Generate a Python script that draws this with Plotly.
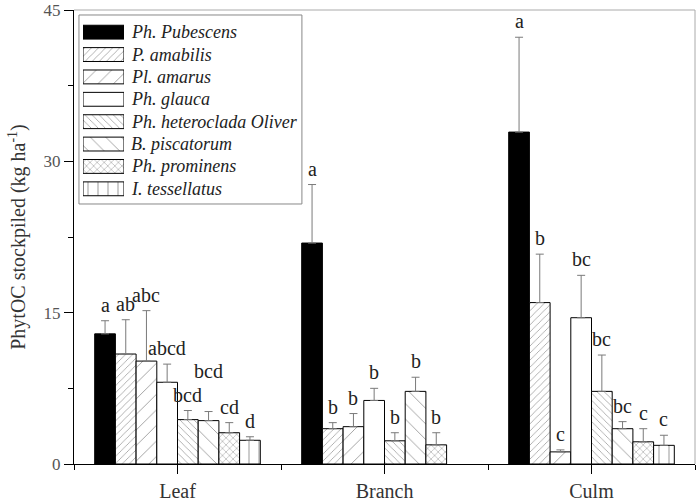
import plotly.graph_objects as go

# categories and species
categories = ["Leaf", "Branch", "Culm"]
species = ["Ph. Pubescens", "P. amabilis", "Pl. amarus", "Ph. glauca",
           "Ph. heteroclada Oliver", "B. piscatorum", "Ph. prominens", "I. tessellatus"]

# mean PhytOC stockpiled (kg ha-1): Leaf, Branch, Culm
pubescens = [12.9, 21.9, 32.9]
amabilis = [10.9, 3.5, 16.0]
amarus = [10.2, 3.7, 1.2]
glauca = [8.1, 6.3, 14.5]
heteroclada = [4.4, 2.3, 7.2]
piscatorum = [4.3, 7.2, 3.5]
prominens = [3.1, 1.9, 2.2]
tessellatus = [2.35, None, 1.85]

# upper error (SD)
err_pubescens = [1.3, 5.8, 9.4]
err_amabilis = [3.4, 0.6, 4.8]
err_amarus = [5.0, 1.3, 0.2]
err_glauca = [1.8, 1.2, 4.2]
err_heteroclada = [0.9, 0.8, 3.6]
err_piscatorum = [0.9, 1.4, 0.7]
err_prominens = [1.0, 1.2, 1.3]
err_tessellatus = [0.35, None, 1.0]

# significance letters
let_pubescens = ["a", "a", "a"]
let_amabilis = ["ab", "b", "b"]
let_amarus = ["abc", "b", "c"]
let_glauca = ["abcd", "b", "bc"]
let_heteroclada = ["bcd", "b", "bc"]
let_piscatorum = ["bcd", "b", "bc"]
let_prominens = ["cd", "b", "c"]
let_tessellatus = ["d", "", "c"]

values = [pubescens, amabilis, amarus, glauca, heteroclada, piscatorum, prominens, tessellatus]
errors = [err_pubescens, err_amabilis, err_amarus, err_glauca, err_heteroclada,
          err_piscatorum, err_prominens, err_tessellatus]
letters = [let_pubescens, let_amabilis, let_amarus, let_glauca, let_heteroclada,
           let_piscatorum, let_prominens, let_tessellatus]

# fill styles
patterns = [
    dict(shape="", bgcolor="black"),
    dict(shape="/", size=5, solidity=0.15, fgcolor="#333", bgcolor="white"),
    dict(shape="/", size=11, solidity=0.08, fgcolor="#333", bgcolor="white"),
    dict(shape="", bgcolor="white"),
    dict(shape="\\", size=5, solidity=0.15, fgcolor="#333", bgcolor="white"),
    dict(shape="\\", size=11, solidity=0.08, fgcolor="#333", bgcolor="white"),
    dict(shape="x", size=5, solidity=0.2, fgcolor="#333", bgcolor="white"),
    dict(shape="|", size=10, solidity=0.1, fgcolor="#333", bgcolor="white"),
]
fills = ["black"] + ["white"] * 7

font = "Liberation Serif, Times New Roman, serif"
xpos = list(range(len(categories)))

fig = go.Figure()
for i, name in enumerate(species):
    fig.add_trace(go.Bar(
        x=xpos, y=values[i], name=name, showlegend=False,
        marker=dict(color=fills[i], pattern=patterns[i], line=dict(color="black", width=1)),
        error_y=dict(type="data", symmetric=False, array=errors[i],
                     arrayminus=[0, 0, 0], color="#7a7a7a", thickness=1, width=4),
    ))

# hand-made legend: wide swatches drawn as horizontal bars on a small inset axis
for i, name in enumerate(species):
    fig.add_trace(go.Bar(
        x=[1], y=[i], orientation="h", width=0.62, showlegend=False, hoverinfo="skip",
        xaxis="x2", yaxis="y2",
        marker=dict(color=fills[i], pattern=patterns[i], line=dict(color="black", width=1)),
    ))

# letters above the error bars
annotations = []
for i in range(len(species)):
    for j in range(len(categories)):
        if values[i][j] is None:
            continue
        shift = 3
        if j == 0 and i == 5:
            shift = 28
        annotations.append(dict(
            x=j + (i - 3.5) * 0.1, y=values[i][j] + errors[i][j], xref="x", yref="y",
            text=letters[i][j], showarrow=False, yanchor="bottom", yshift=shift,
            font=dict(family=font, size=20, color="#222"),
        ))

# legend names
for i, name in enumerate(species):
    annotations.append(dict(
        x=0.088, y=i, xref="paper", yref="y2", text="<i>" + name + "</i>",
        showarrow=False, xanchor="left", yanchor="middle",
        font=dict(family=font, size=18, color="#222"),
    ))

fig.update_layout(
    width=700, height=504,
    margin=dict(l=74, r=5, t=10, b=40),
    paper_bgcolor="white", plot_bgcolor="white",
    barmode="group", bargap=0.2, bargroupgap=0,
    font=dict(family=font, color="#333"),
    annotations=annotations,
    xaxis=dict(
        range=[-0.5, 2.5], tickvals=xpos, ticktext=categories, automargin=False,
        showline=True, linecolor="black", linewidth=1, showgrid=False, zeroline=False,
        ticks="outside", ticklen=9, tickcolor="black",
        minor=dict(tickvals=[-0.5, 0.5, 1.5, 2.5], ticks="outside", ticklen=5, tickcolor="black"),
        tickfont=dict(family=font, size=20, color="#333"),
    ),
    yaxis=dict(
        range=[0, 45], tickvals=[0, 15, 30, 45], automargin=False,
        showline=True, linecolor="black", linewidth=1, showgrid=False, zeroline=False,
        ticks="outside", ticklen=9, tickcolor="black",
        minor=dict(tickvals=[7.5, 22.5, 37.5], ticks="outside", ticklen=5, tickcolor="black"),
        tickfont=dict(family=font, size=17, color="#555"),
        title=dict(text="PhytOC stockpiled (kg ha<sup>-1</sup>)", standoff=12,
                   font=dict(family=font, size=20, color="#333")),
    ),
    xaxis2=dict(domain=[0.0145, 0.0805], range=[0, 1], visible=False, anchor="y2"),
    yaxis2=dict(domain=[0.5815, 0.9758], range=[7.5, -0.5], visible=False, anchor="x2"),
    shapes=[
        dict(type="line", xref="paper", yref="paper", x0=0, x1=1, y0=1, y1=1,
             line=dict(color="#aaa", width=1)),
        dict(type="line", xref="paper", yref="paper", x0=1, x1=1, y0=0, y1=1,
             line=dict(color="#aaa", width=1)),
        dict(type="rect", xref="paper", yref="paper", x0=0.008, x1=0.367, y0=0.5727, y1=0.989,
             line=dict(color="#888", width=1), fillcolor="white", layer="below"),
    ],
)

# drop the browser's default page margin so the figure sits at the window corner
fig.write_html("out.html", config={"displayModeBar": False},
               post_script="document.body.style.margin='0';")
